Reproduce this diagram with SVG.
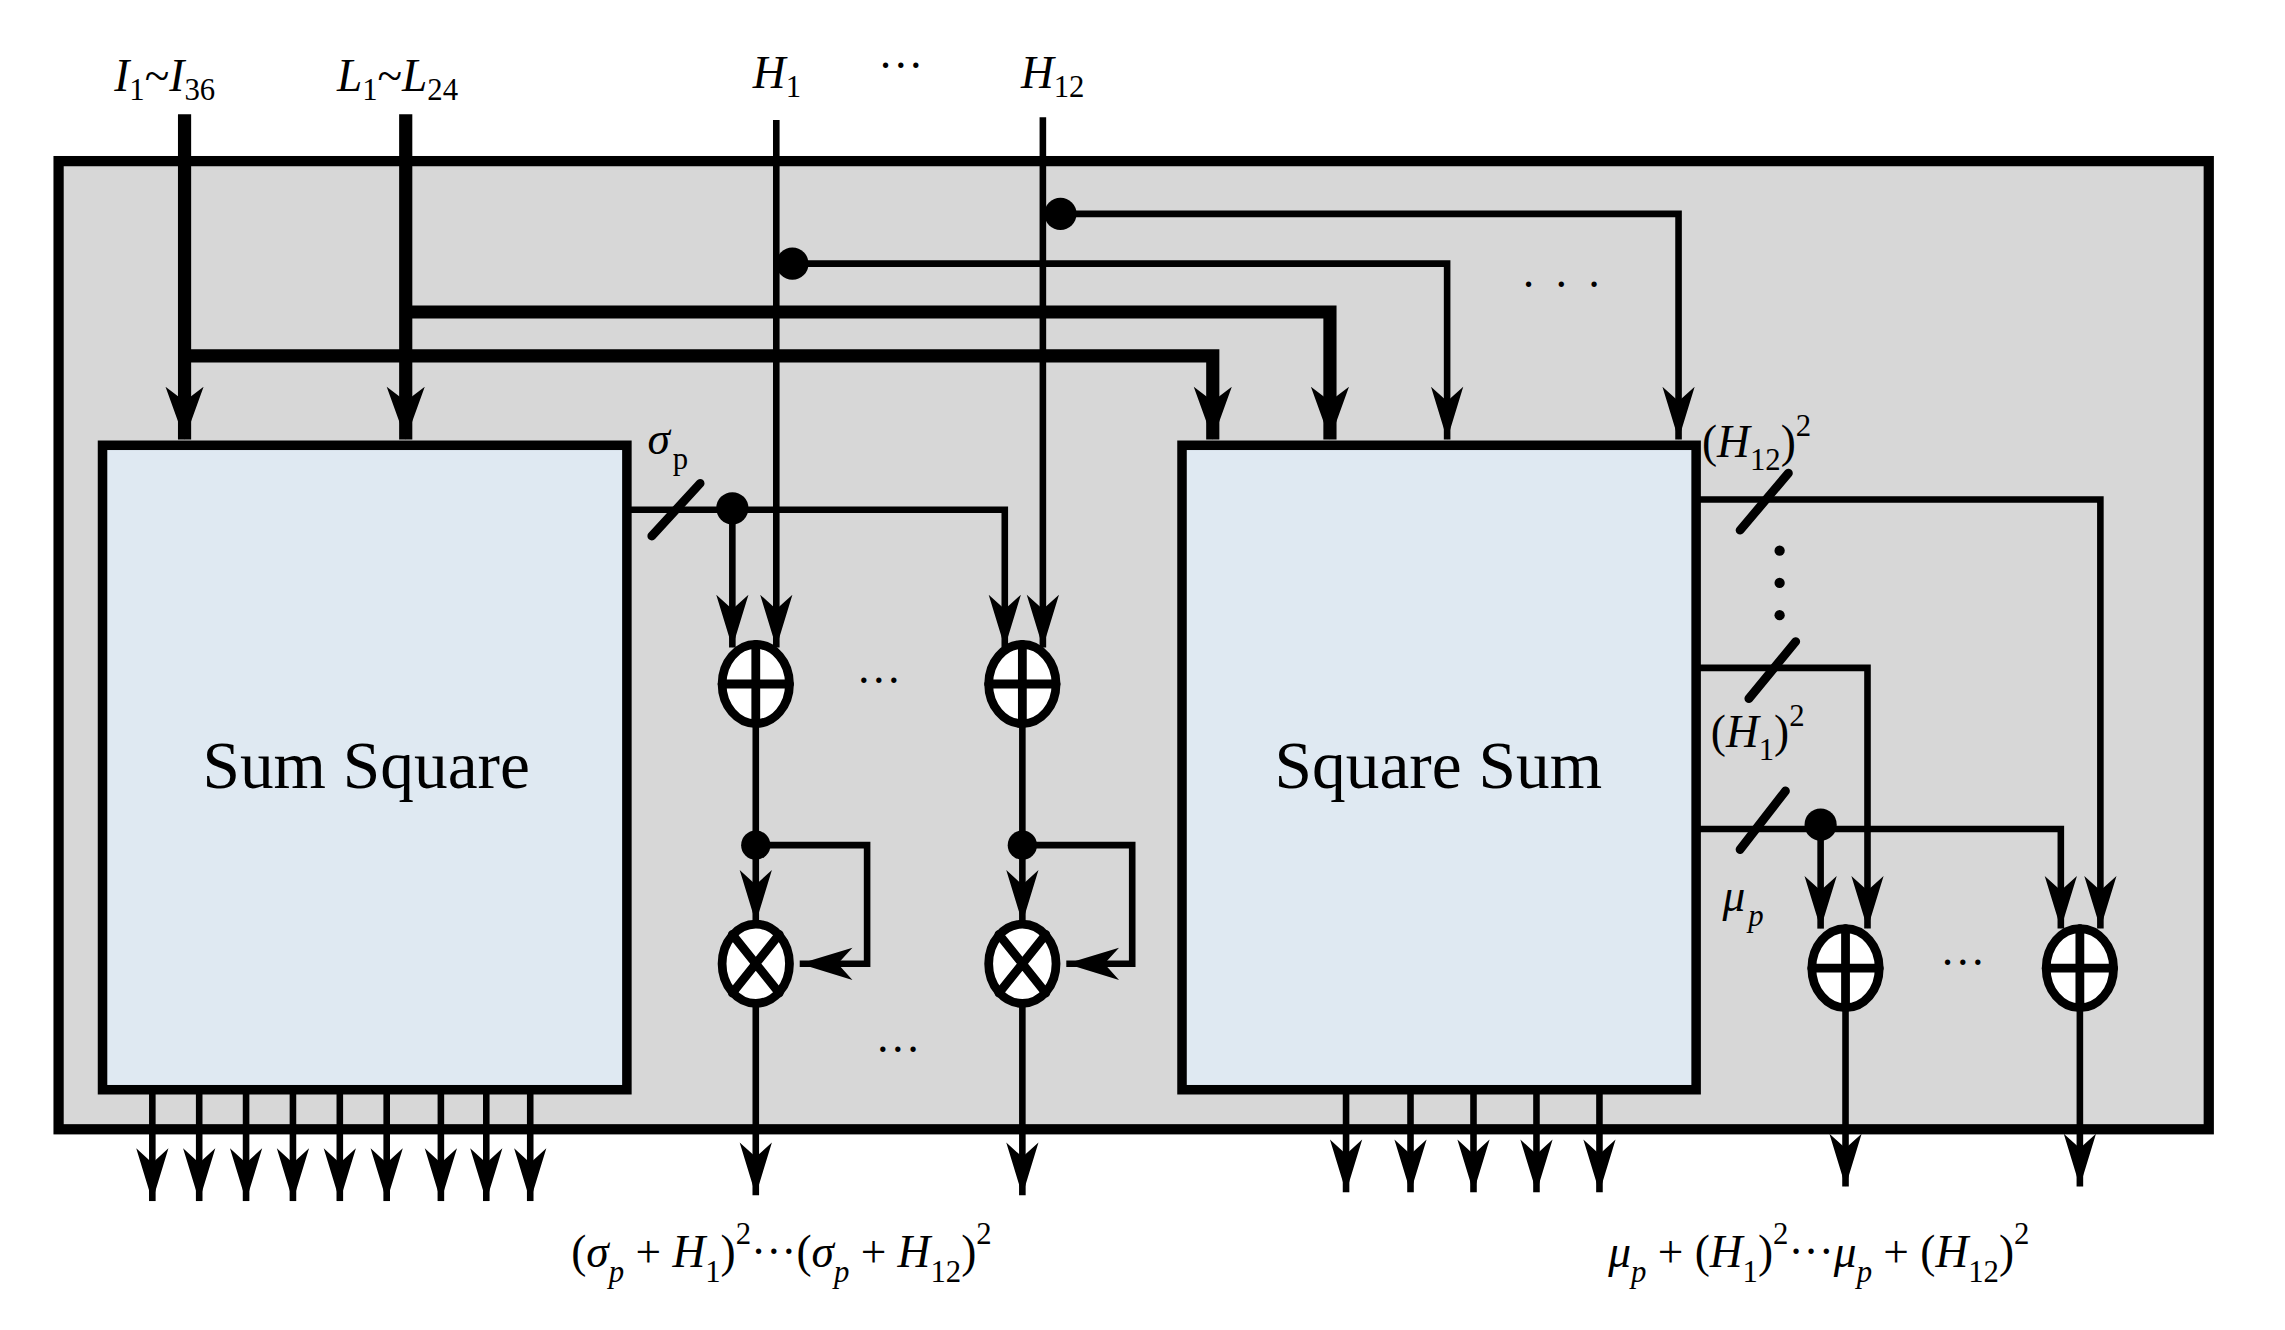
<svg xmlns="http://www.w3.org/2000/svg" width="2285" height="1330" viewBox="0 0 2285 1330">
<style>
.t{font-family:"Liberation Serif",serif;font-style:italic;font-size:31px;fill:#000}
.u{font-family:"Liberation Serif",serif;font-size:31px;fill:#000}
.b{font-family:"Liberation Serif",serif;font-size:46px;fill:#000}
.s{font-size:21px;font-style:normal}
.th{stroke:#000;stroke-width:4.5;fill:none}
.tk{stroke:#000;stroke-width:9;fill:none}
.bx{fill:#dfe9f2;stroke:#000;stroke-width:6.5}
.op{fill:#fff;stroke:#000;stroke-width:6}
.sl{stroke:#000;stroke-width:6;stroke-linecap:round}
</style>
<defs>
<marker id="a" markerUnits="userSpaceOnUse" markerWidth="40" markerHeight="30" refX="0" refY="0" viewBox="-36 -15 40 30" orient="auto" overflow="visible">
<path d="M0,0 L-36,-11 L-26,0 L-36,11 Z" fill="#000"/>
</marker>
<marker id="k" markerUnits="userSpaceOnUse" markerWidth="40" markerHeight="30" refX="0" refY="0" viewBox="-36 -15 40 30" orient="auto" overflow="visible">
<path d="M0,0 L-36,-13 L-26,0 L-36,13 Z" fill="#000"/>
</marker>
</defs>
<rect width="2285" height="1330" fill="#fff"/>
<g transform="scale(1.4647)">
<g id="frame"><rect x="40" y="110" width="1468" height="661" fill="#d7d7d7" stroke="#000" stroke-width="7"/></g>
<g id="sumsquare"><rect class="bx" x="70" y="304" width="358" height="440"/><text class="b" x="250" y="538" text-anchor="middle">Sum Square</text></g>
<g id="squaresum"><rect class="bx" x="807" y="304" width="351" height="440"/><text class="b" x="982" y="538" text-anchor="middle">Square Sum</text></g>
<g id="connectors">
<path class="tk" d="M126,78 V300" marker-end="url(#k)"/>
<path class="tk" d="M126,243 H828 V300" marker-end="url(#k)"/>
<path class="tk" d="M277,78 V300" marker-end="url(#k)"/>
<path class="tk" d="M277,213 H908 V300" marker-end="url(#k)"/>
<path class="th" d="M530,82 V442" marker-end="url(#a)"/>
<path class="th" d="M712,80 V442" marker-end="url(#a)"/>
<path class="th" d="M541,180 H988 V300" marker-end="url(#a)"/>
<path class="th" d="M724,146 H1146 V300" marker-end="url(#a)"/>
<circle cx="541" cy="180" r="11"/><circle cx="724" cy="146" r="11"/>
<path class="th" d="M428,348 H686 V442" marker-end="url(#a)"/>
<path class="th" d="M500,348 V442" marker-end="url(#a)"/>
<circle cx="500" cy="347" r="11"/>
<line class="sl" x1="445" y1="366" x2="478" y2="330"/>
<path class="th" d="M516,494 V630" marker-end="url(#a)"/>
<path class="th" d="M516,577 H592 V658 H546" marker-end="url(#a)"/>
<circle cx="516" cy="577" r="10"/>
<path class="th" d="M698,494 V630" marker-end="url(#a)"/>
<path class="th" d="M698,577 H773 V658 H728" marker-end="url(#a)"/>
<circle cx="698" cy="577" r="10"/>
<path class="th" d="M516,685 V816" marker-end="url(#a)"/>
<path class="th" d="M698,685 V816" marker-end="url(#a)"/>
<path class="th" d="M104,744 V820" marker-end="url(#a)"/>
<path class="th" d="M136,744 V820" marker-end="url(#a)"/>
<path class="th" d="M168,744 V820" marker-end="url(#a)"/>
<path class="th" d="M200,744 V820" marker-end="url(#a)"/>
<path class="th" d="M232,744 V820" marker-end="url(#a)"/>
<path class="th" d="M264,744 V820" marker-end="url(#a)"/>
<path class="th" d="M301,744 V820" marker-end="url(#a)"/>
<path class="th" d="M332,744 V820" marker-end="url(#a)"/>
<path class="th" d="M362,744 V820" marker-end="url(#a)"/>
<path class="th" d="M919,744 V814" marker-end="url(#a)"/>
<path class="th" d="M963,744 V814" marker-end="url(#a)"/>
<path class="th" d="M1006,744 V814" marker-end="url(#a)"/>
<path class="th" d="M1049,744 V814" marker-end="url(#a)"/>
<path class="th" d="M1092,744 V814" marker-end="url(#a)"/>
<path class="th" d="M1158,341 H1434 V634" marker-end="url(#a)"/>
<line class="sl" x1="1188" y1="362" x2="1221" y2="323"/>
<path class="th" d="M1158,456 H1275 V634" marker-end="url(#a)"/>
<line class="sl" x1="1194" y1="477" x2="1226" y2="438"/>
<path class="th" d="M1158,566 H1407 V634" marker-end="url(#a)"/>
<path class="th" d="M1243,566 V634" marker-end="url(#a)"/>
<circle cx="1243" cy="563" r="11"/>
<line class="sl" x1="1188" y1="580" x2="1219" y2="540"/>
<path class="th" d="M1260,688 V810" marker-end="url(#a)"/>
<path class="th" d="M1420,688 V810" marker-end="url(#a)"/>
</g>
<g id="adders">
<ellipse class="op" cx="516" cy="467" rx="23" ry="27"/><path class="sl" d="M493,467 H539 M516,440 V494" stroke-linecap="butt"/>
<ellipse class="op" cx="698" cy="467" rx="23" ry="27"/><path class="sl" d="M675,467 H721 M698,440 V494" stroke-linecap="butt"/>
<ellipse class="op" cx="1260" cy="661" rx="23" ry="27"/><path class="sl" d="M1237,661 H1283 M1260,634 V688" stroke-linecap="butt"/>
<ellipse class="op" cx="1420" cy="661" rx="23" ry="27"/><path class="sl" d="M1397,661 H1443 M1420,634 V688" stroke-linecap="butt"/>
</g>
<g id="multipliers">
<ellipse class="op" cx="516" cy="658" rx="23" ry="27"/><path class="sl" d="M500,638 L532,678 M532,638 L500,678" stroke-linecap="butt"/>
<ellipse class="op" cx="698" cy="658" rx="23" ry="27"/><path class="sl" d="M682,638 L714,678 M714,638 L682,678" stroke-linecap="butt"/>
</g>
<g id="dots" fill="#000">
<text class="u" x="600" y="475" text-anchor="middle">···</text>
<text class="u" x="613" y="727" text-anchor="middle">···</text>
<text class="u" x="1340" y="668" text-anchor="middle">···</text>
<text class="u" x="615" y="55" text-anchor="middle">···</text>
<text class="u" x="1072" y="205" text-anchor="middle" letter-spacing="12">···</text>
<circle cx="1215" cy="376" r="3.5"/><circle cx="1215" cy="398" r="3.5"/><circle cx="1215" cy="420" r="3.5"/>
</g>
<g id="labels">
<text class="t" x="78" y="62">I<tspan class="s" dy="6">1</tspan><tspan dy="-6" style="font-style:normal">~</tspan>I<tspan class="s" dy="6">36</tspan></text>
<text class="t" x="230" y="62">L<tspan class="s" dy="6">1</tspan><tspan dy="-6" style="font-style:normal">~</tspan>L<tspan class="s" dy="6">24</tspan></text>
<text class="t" x="514" y="60">H<tspan class="s" dy="6">1</tspan></text>
<text class="t" x="697" y="60">H<tspan class="s" dy="6">12</tspan></text>
<text class="t" x="442" y="310">σ<tspan class="s" dx="2" dy="10">p</tspan></text>
<text class="u" x="1162" y="312">(<tspan class="t">H</tspan><tspan class="s" dy="9">12</tspan><tspan dy="-9">)</tspan><tspan class="s" dy="-14">2</tspan></text>
<text class="u" x="1168" y="510">(<tspan class="t">H</tspan><tspan class="s" dy="9">1</tspan><tspan dy="-9">)</tspan><tspan class="s" dy="-14">2</tspan></text>
<text class="t" x="1176" y="622">μ<tspan class="s" dx="2" dy="10" style="font-style:italic">p</tspan></text>
<text class="u" x="390" y="865" font-size="34">(<tspan class="t" font-size="34">σ</tspan><tspan class="s" dy="10" style="font-style:italic">p</tspan><tspan dy="-10"> + </tspan><tspan class="t" font-size="34">H</tspan><tspan class="s" dy="10">1</tspan><tspan dy="-10">)</tspan><tspan class="s" dy="-16">2</tspan><tspan dy="16">···(</tspan><tspan class="t" font-size="34">σ</tspan><tspan class="s" dy="10" style="font-style:italic">p</tspan><tspan dy="-10"> + </tspan><tspan class="t" font-size="34">H</tspan><tspan class="s" dy="10">12</tspan><tspan dy="-10">)</tspan><tspan class="s" dy="-16">2</tspan></text>
<text class="u" x="1098" y="865" font-size="34"><tspan class="t" font-size="34">μ</tspan><tspan class="s" dy="10" style="font-style:italic">p</tspan><tspan dy="-10"> + (</tspan><tspan class="t" font-size="34">H</tspan><tspan class="s" dy="10">1</tspan><tspan dy="-10">)</tspan><tspan class="s" dy="-16">2</tspan><tspan dy="16">···</tspan><tspan class="t" font-size="34">μ</tspan><tspan class="s" dy="10" style="font-style:italic">p</tspan><tspan dy="-10"> + (</tspan><tspan class="t" font-size="34">H</tspan><tspan class="s" dy="10">12</tspan><tspan dy="-10">)</tspan><tspan class="s" dy="-16">2</tspan></text>
</g>
</g>
</svg>
